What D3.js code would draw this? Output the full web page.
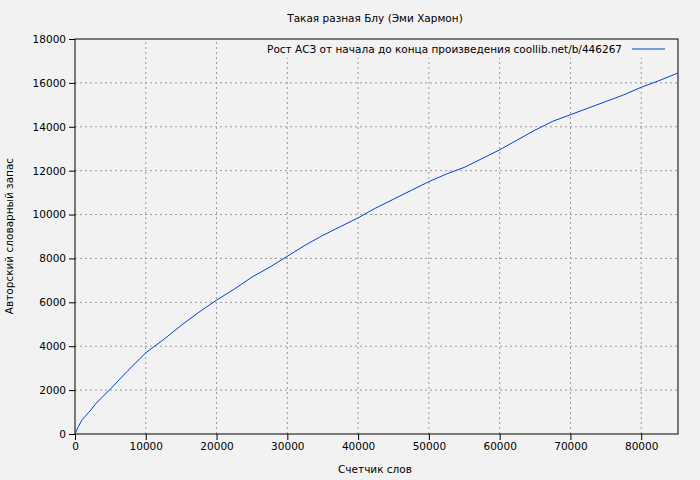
<!DOCTYPE html><html><head><meta charset="utf-8"><script src="https://cdn.jsdelivr.net/npm/d3@7"></script>
<style>body{margin:0;background:#f2f2f2}svg{font-family:"DejaVu Sans",sans-serif;font-size:10.5px}</style></head><body><svg id="c" width="700" height="480"></svg><script>
const words=[0,500,1000,2000,3000,5000,7500,10000,12500,15000,17500,20000,22500,25000,27500,30000,32500,35000,37500,40000,42500,45000,47500,50000,52500,55000,57500,60000,62500,65000,67500,70000,72500,75000,77500,80000,82500,85200];
const vocab=[0,350,650,1000,1400,2050,2900,3700,4300,4950,5550,6100,6600,7150,7600,8100,8600,9050,9450,9850,10300,10700,11100,11500,11850,12150,12550,12950,13400,13850,14250,14550,14850,15150,15450,15800,16100,16450];
const xTicks=[0,10000,20000,30000,40000,50000,60000,70000,80000];
const yTicks=[0,2000,4000,6000,8000,10000,12000,14000,16000,18000];
const svg=d3.select("#c"),L=75,R=678,T=39,B=434;
const x=d3.scaleLinear().domain([0,85200]).range([L,R]);
const y=d3.scaleLinear().domain([0,18000]).range([B,T]);
const g=svg.append("g");
xTicks.slice(1).forEach(v=>g.append("line").attr("x1",x(v)).attr("x2",x(v)).attr("y1",B).attr("y2",T).attr("stroke","#999").attr("stroke-dasharray","2,3"));
yTicks.slice(1,-1).forEach(v=>g.append("line").attr("x1",L).attr("x2",R).attr("y1",y(v)).attr("y2",y(v)).attr("stroke","#999").attr("stroke-dasharray","2,3"));
svg.append("rect").attr("x",258).attr("y",42).attr("width",412).attr("height",16).attr("fill","#f2f2f2");
svg.append("rect").attr("x",L).attr("y",T).attr("width",R-L).attr("height",B-T).attr("fill","none").attr("stroke","#000");
const st=a=>{a.select(".domain").remove();a.selectAll("text").style("font-family","DejaVu Sans").style("font-size","10.5px").attr("fill","#000")};
svg.append("g").attr("transform",`translate(0,${B})`).call(d3.axisBottom(x).tickValues(xTicks).tickFormat(d3.format("d")).tickSizeOuter(0)).call(st);
svg.append("g").attr("transform",`translate(${L},0)`).call(d3.axisLeft(y).tickValues(yTicks).tickFormat(d3.format("d")).tickSizeOuter(0)).call(st);
svg.append("path").datum(words.map((w,i)=>[w,vocab[i]])).attr("fill","none").attr("stroke","#0044cc").attr("stroke-width",1).attr("d",d3.line().x(d=>x(d[0])).y(d=>y(d[1])));
svg.append("text").attr("x",375).attr("y",22).attr("text-anchor","middle").text("Такая разная Блу (Эми Хармон)");
svg.append("text").attr("x",375).attr("y",473).attr("text-anchor","middle").text("Счетчик слов");
svg.append("text").attr("transform","translate(13,236) rotate(-90)").attr("text-anchor","middle").text("Авторский словарный запас");
svg.append("text").attr("x",622).attr("y",53).attr("text-anchor","end").text("Рост АСЗ от начала до конца произведения coollib.net/b/446267");
svg.append("line").attr("x1",632).attr("x2",665).attr("y1",49).attr("y2",49).attr("stroke","#0044cc");
</script></body></html>
